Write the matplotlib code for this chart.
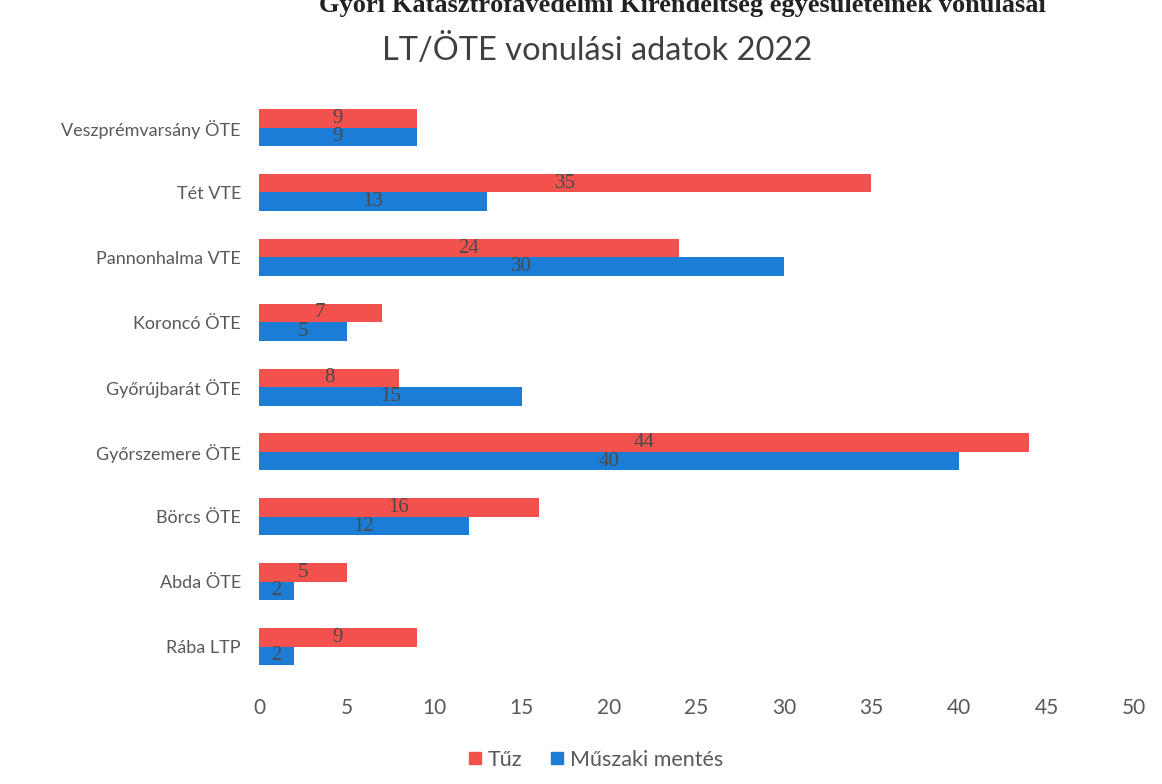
import numpy as np
import matplotlib
matplotlib.use('Agg')
import matplotlib.pyplot as plt
from matplotlib.lines import Line2D

# data, top to bottom as in the chart
categories = ['Veszprémvarsány ÖTE', 'Tét VTE', 'Pannonhalma VTE', 'Koroncó ÖTE',
              'Győrújbarát ÖTE', 'Győrszemere ÖTE', 'Börcs ÖTE', 'Abda ÖTE', 'Rába LTP']
tuz = [9, 35, 24, 7, 8, 44, 16, 5, 9]
muszaki = [9, 13, 30, 5, 15, 40, 12, 2, 2]
x_ticks = [0, 5, 10, 15, 20, 25, 30, 35, 40, 45, 50]

red = '#F2514E'
blue = '#1C7DD6'
txt = '#595959'

plt.rcParams['font.family'] = ['Lato', 'DejaVu Sans']

fig = plt.figure(figsize=(11.62, 7.84), dpi=100)
ax = fig.add_axes([0.2229, 0.134, 0.753, 0.7446])

y = np.arange(len(categories))
h = 0.285
bars_t = ax.barh(y - h / 2, tuz, height=h, color=red, label='Tűz')
bars_m = ax.barh(y + h / 2, muszaki, height=h, color=blue, label='Műszaki mentés')

for bars, vals in [(bars_t, tuz), (bars_m, muszaki)]:
    for b, v in zip(bars, vals):
        ax.text(b.get_width() / 2, b.get_y() + b.get_height() / 2, str(v),
                ha='center', va='center', fontsize=15, color='#4a4a4a',
                family='Liberation Serif')

ax.set_ylim(len(categories) - 0.5, -0.5)
ax.set_xlim(0, 50)
ax.set_yticks(y)
ax.set_yticklabels(categories, fontsize=13, color=txt)
ax.set_xticks(x_ticks)
ax.set_xticklabels([str(t) for t in x_ticks], fontsize=15, color=txt)
ax.tick_params(axis='both', length=0)
ax.tick_params(axis='x', pad=14)
ax.tick_params(axis='y', pad=13)
for s in ax.spines.values():
    s.set_visible(False)

fig.text(0.514, 1 - 50 / 784, 'LT/ÖTE vonulási adatok 2022', ha='center', va='center',
         fontsize=23.5, color='#404040')

# heading of the scanned page, cut off at the top edge as in the scan
fig.text(0.587, 1 - 12 / 784, 'Győri Katasztrófavédelmi Kirendeltség egyesületeinek vonulásai',
         ha='center', va='baseline', fontsize=19, fontweight='bold',
         family='Liberation Serif', color='#222222')

handles = [Line2D([], [], marker='s', linestyle='none', markersize=9, color=red),
           Line2D([], [], marker='s', linestyle='none', markersize=9, color=blue)]
fig.legend(handles, ['Tűz', 'Műszaki mentés'], loc='center', bbox_to_anchor=(0.512, 1 - 760 / 784),
           ncol=2, frameon=False, fontsize=15.5, labelcolor=txt, handletextpad=0.2,
           columnspacing=1.2, handlelength=0.8)

fig.savefig('out.png', dpi=100, facecolor='white')
